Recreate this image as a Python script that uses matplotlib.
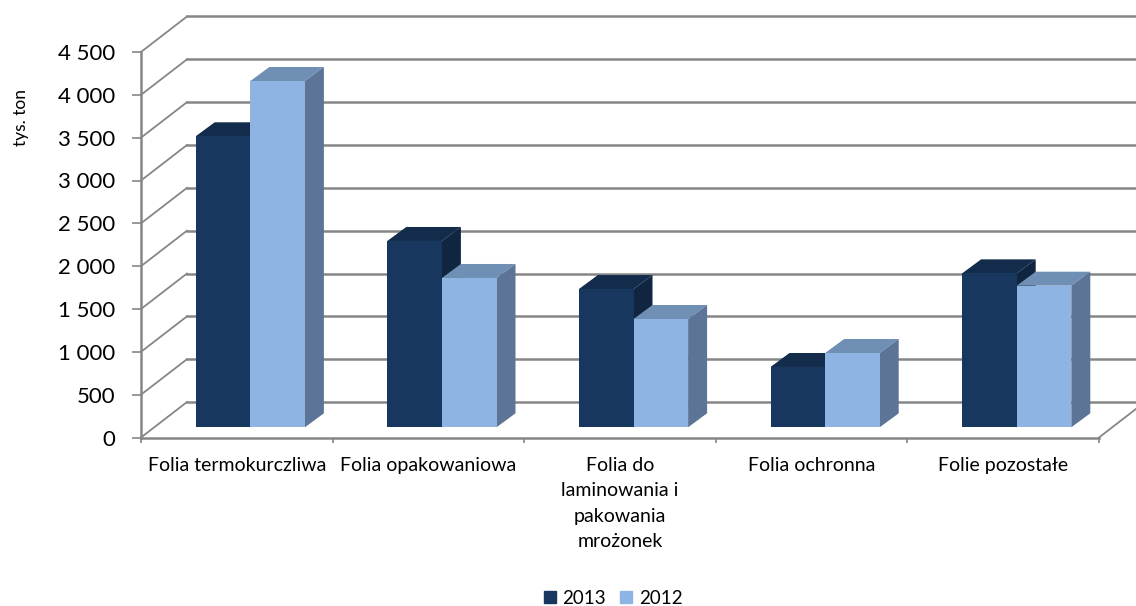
import matplotlib
matplotlib.use("Agg")
import matplotlib.pyplot as plt
from matplotlib.patches import Patch, Polygon
import numpy as np

categories = ["Folia termokurczliwa", "Folia opakowaniowa",
              "Folia do\nlaminowania i\npakowania\nmrożonek",
              "Folia ochronna", "Folie pozostałe"]
series_names = ["2013", "2012"]
values_2013 = [3397, 2175, 1614, 704, 1797]
values_2012 = [4042, 1743, 1264, 867, 1653]
y_ticks = [0, 500, 1000, 1500, 2000, 2500, 3000, 3500, 4000, 4500]
y_tick_labels = ["0", "500", "1\u00a0000", "1\u00a0500", "2\u00a0000", "2\u00a0500",
                 "3\u00a0000", "3\u00a0500", "4\u00a0000", "4\u00a0500"]

# front, top, side
colors_2013 = ("#17375E", "#132C4B", "#0F2540")
colors_2012 = ("#8DB4E2", "#6F8FB5", "#5C7596")
grid_color = "#868686"

plt.rcParams["font.family"] = ["Lato", "DejaVu Sans"]

W, H = 1136, 606
fig = plt.figure(figsize=(W / 100, H / 100), dpi=100)
ax = fig.add_axes([141 / W, (H - 437.5) / H, 958 / W, 385.5 / H])
ax.set_xlim(-0.5, 4.5)
ax.set_ylim(0, 4500)

# px -> data units
px_x = 5 / 958
px_y = 4500 / 385.5

# back wall + left wall + floor
wall_dx, wall_dy = 46 * px_x, 35.5 * px_y
for v in y_ticks:
    ax.plot([-0.5, -0.5 + wall_dx], [v, v + wall_dy], color=grid_color, lw=1.3,
            clip_on=False, zorder=1)
    ax.plot([-0.5 + wall_dx, 4.5 + wall_dx], [v + wall_dy, v + wall_dy], color=grid_color,
            lw=1.8, clip_on=False, zorder=1)
ax.plot([4.5, 4.5 + wall_dx], [0, wall_dy], color=grid_color, lw=1.3, clip_on=False, zorder=1)

# bars
bar_w = 54.6 * px_x
base = 10.2 * px_y
shift = 13.5 * px_x
depth_x, depth_y = 19 * px_x, 14 * px_y


def draw_bar(x_left, value, colors, z):
    top = base + value
    ax.bar(x_left, value, width=bar_w, bottom=base, align="edge", color=colors[0],
           linewidth=0, clip_on=False, zorder=z + 0.2)
    x_right = x_left + bar_w
    ax.add_patch(Polygon([(x_left, top), (x_right, top), (x_right + depth_x, top + depth_y),
                          (x_left + depth_x, top + depth_y)],
                         facecolor=colors[1], edgecolor="none", clip_on=False, zorder=z))
    ax.add_patch(Polygon([(x_right, base), (x_right + depth_x, base + depth_y),
                          (x_right + depth_x, top + depth_y), (x_right, top)],
                         facecolor=colors[2], edgecolor="none", clip_on=False, zorder=z))


for i in range(len(categories)):
    center = i + shift
    draw_bar(center - bar_w, values_2013[i], colors_2013, 3)
    draw_bar(center, values_2012[i], colors_2012, 5)

# axes
for side in ["top", "right"]:
    ax.spines[side].set_visible(False)
for side in ["left", "bottom"]:
    ax.spines[side].set_color(grid_color)
    ax.spines[side].set_linewidth(1.8)
    ax.spines[side].set_zorder(2)

ax.set_yticks(y_ticks)
ax.set_yticklabels(y_tick_labels, fontsize=16, color="black")
ax.tick_params(axis="y", length=6.5, width=1.2, color=grid_color, pad=12)

ax.set_xticks(np.arange(-0.5, 5, 1))
ax.set_xticklabels([])
ax.tick_params(axis="x", length=3.5, width=1.2, color=grid_color)
ax.set_xticks(np.arange(5), minor=True)
ax.set_xticklabels(categories, minor=True, fontsize=14, linespacing=1.6,
                   verticalalignment="top")
ax.tick_params(axis="x", which="minor", length=0, pad=14)

ax.set_ylabel("tys. ton", fontsize=12.5)
ax.yaxis.set_label_coords((29 - 141) / 958, (437.5 - 118) / 385.5)

handles = [Patch(color=colors_2013[0]), Patch(color=colors_2012[0])]
fig.legend(handles, series_names, loc="center", bbox_to_anchor=(613 / W, (H - 598) / H),
           ncol=2, frameon=False, fontsize=13.5, handlelength=0.65, handleheight=0.65,
           handletextpad=0.35, columnspacing=0.75, borderpad=0)

fig.savefig("out.png", dpi=100)
